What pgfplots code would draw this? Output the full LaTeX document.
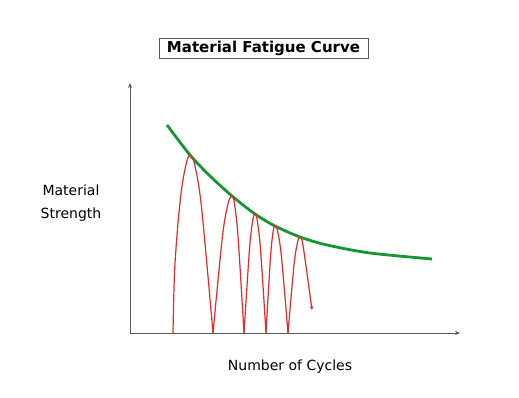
\documentclass[border=0pt]{standalone}
\usepackage{fontspec}
\setmainfont{DejaVu Sans}
\usepackage{pgfplots}
\pgfplotsset{compat=1.18}
\usetikzlibrary{arrows.meta}
\definecolor{curvegreen}{RGB}{22,150,50}
\definecolor{wavered}{RGB}{232,40,40}
\definecolor{axisgray}{RGB}{90,90,90}
\begin{document}
\begin{tikzpicture}
\path[use as bounding box] (-130pt,-65pt) rectangle (389pt,333pt);
\begin{axis}[
  at={(0pt,0pt)}, anchor=south west,
  scale only axis, width=330pt, height=250pt,
  xmin=130, xmax=460, ymin=65, ymax=315,
  axis lines=left,
  axis line style={axisgray, line width=0.7pt, -{Stealth[length=5pt,width=4pt]}},
  xtick=\empty, ytick=\empty,
  clip=false,
]
% fatigue envelope
\addplot[curvegreen, line width=2.8pt, smooth] coordinates {
 (167,273) (190,243) (210,222) (232,202) (255,184) (275,172) (300,161) (327,153) (370,145) (432,139)
};
% stress cycles
\addplot[wavered, line width=1.2pt, smooth] coordinates {
 (173,65) (174.5,125) (178,175) (182,212) (186.6,236) (190,243) (194.6,234) (201.5,191) (213,65)
};
\addplot[wavered, line width=1.2pt, smooth] coordinates {
 (213,65) (222.5,162) (228.2,195) (232,202) (234.4,195) (238,162) (244,65)
};
\addplot[wavered, line width=1.2pt, smooth] coordinates {
 (244,65) (249.5,149) (252.8,178) (255,184) (257.2,178) (260.5,149) (266,65)
};
\addplot[wavered, line width=1.2pt, smooth] coordinates {
 (266,65) (270.5,141) (273.2,167) (275,172) (277.6,167) (281.5,141) (288,65)
};
\addplot[wavered, line width=1.2pt, smooth, -{Stealth[length=4pt,width=3.5pt]}] coordinates {
 (288,65) (294,133) (297.6,156) (300,161) (302.4,156) (306,132) (312,88)
};
\node[draw=axisgray, line width=0.6pt, inner xsep=8pt, inner ysep=2.5pt, font=\fontsize{15}{17}\selectfont\bfseries] at (axis cs:263.5,349.5) {Material Fatigue Curve};
\node[align=center, font=\fontsize{14}{23}\selectfont] at (axis cs:71,195) {Material\\Strength};
\node[font=\fontsize{14}{16}\selectfont] at (axis cs:290,31) {Number of Cycles};
\end{axis}
\end{tikzpicture}
\end{document}
